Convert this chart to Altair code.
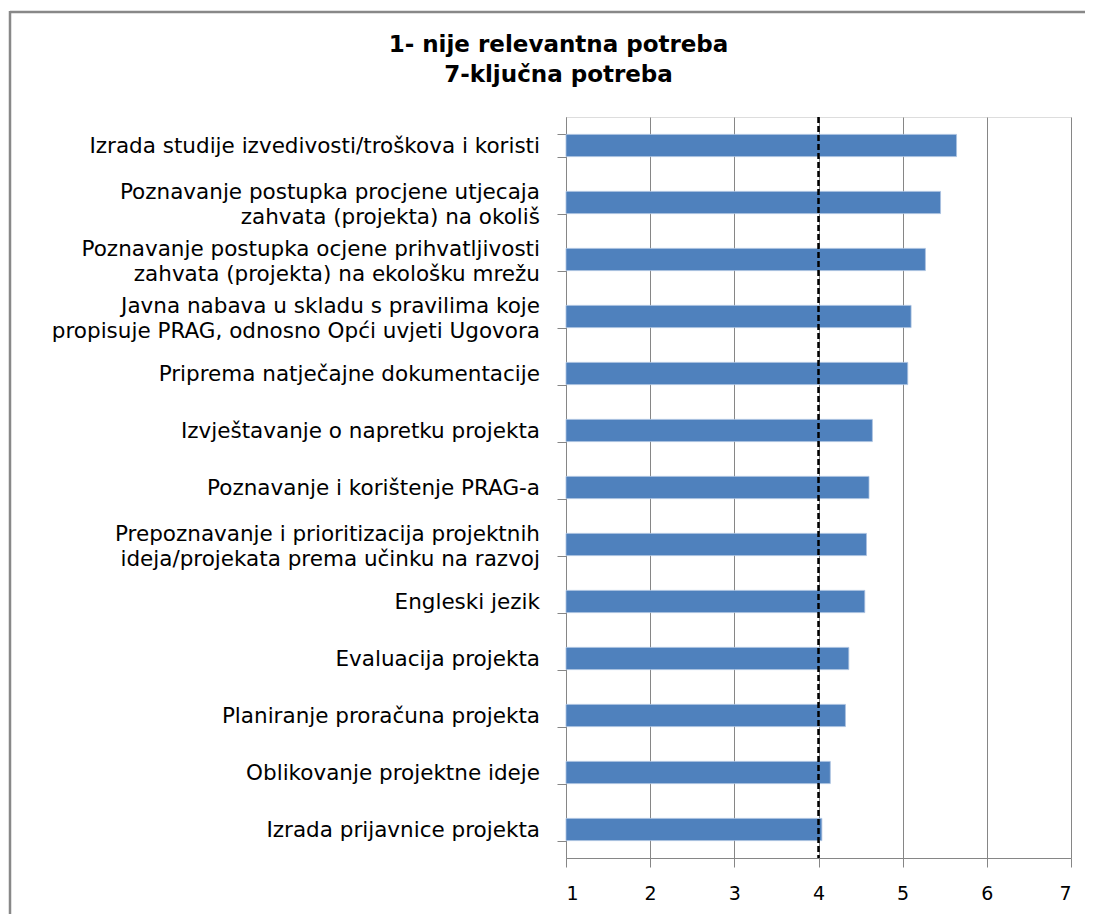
import altair as alt
import pandas as pd

categories = [
    "Izrada studije izvedivosti/troškova i koristi",
    "Poznavanje postupka procjene utjecaja|zahvata (projekta) na okoliš",
    "Poznavanje postupka ocjene prihvatljivosti|zahvata (projekta) na ekološku mrežu",
    "Javna nabava u skladu s pravilima koje|propisuje PRAG, odnosno Opći uvjeti Ugovora",
    "Priprema natječajne dokumentacije",
    "Izvještavanje o napretku projekta",
    "Poznavanje i korištenje PRAG-a",
    "Prepoznavanje i prioritizacija projektnih|ideja/projekata prema učinku na razvoj",
    "Engleski jezik",
    "Evaluacija projekta",
    "Planiranje proračuna projekta",
    "Oblikovanje projektne ideje",
    "Izrada prijavnice projekta",
]
values = [5.64, 5.45, 5.27, 5.10, 5.06, 4.64, 4.60, 4.57, 4.55, 4.36, 4.32, 4.14, 4.04]
reference_value = [4.0]
x_ticks = [1, 2, 3, 4, 5, 6, 7]
title_lines = ["1- nije relevantna potreba", "7-ključna potreba"]

FONT = "DejaVu Sans"
GRAY = "#868686"
LABEL_SIZE = 21.5

df = pd.DataFrame({"cat": categories, "value": values, "base": [1] * len(values)})
ref_df = pd.DataFrame({"ref": reference_value})

xscale = alt.Scale(domain=[1, 7], zero=False, nice=False)
yscale = alt.Scale(paddingInner=0.61, paddingOuter=0.305)
ysort = categories

base = alt.Chart(df)

bars = base.mark_bar(color="#4F81BD", stroke="#A9C0E0", strokeWidth=0.8).encode(
    x=alt.X("value:Q", scale=xscale,
            axis=alt.Axis(values=x_ticks, format="d", grid=True, gridColor=GRAY, gridWidth=1,
                          domainColor=GRAY, tickColor=GRAY, tickSize=9, labelPadding=17,
                          labelFontSize=19, labelColor="#000000", labelFont=FONT, title=None)),
    x2="base:Q",
    y=alt.Y("cat:N", sort=ysort, scale=yscale,
            axis=alt.Axis(title=None, domainColor=GRAY, tickColor=GRAY, tickSize=9,
                          tickBand="extent", labels=False)),
)

label_props = dict(align="right", baseline="middle", font=FONT, fontSize=LABEL_SIZE, color="#000000")

single = base.transform_filter("indexof(datum.cat, '|') < 0").mark_text(dy=1, **label_props).encode(
    y=alt.Y("cat:N", sort=ysort, scale=yscale),
    x=alt.value(-26),
    text="cat:N",
)
multi = base.transform_filter("indexof(datum.cat, '|') >= 0").transform_calculate(
    line1="split(datum.cat, '|')[0]", line2="split(datum.cat, '|')[1]"
)
multi1 = multi.mark_text(dy=-10, **label_props).encode(
    y=alt.Y("cat:N", sort=ysort, scale=yscale), x=alt.value(-26), text="line1:N"
)
multi2 = multi.mark_text(dy=15, **label_props).encode(
    y=alt.Y("cat:N", sort=ysort, scale=yscale), x=alt.value(-26), text="line2:N"
)

rule = alt.Chart(ref_df).mark_rule(color="#000000", strokeWidth=2.5, strokeDash=[6, 3]).encode(
    x=alt.X("ref:Q", scale=xscale)
)

frame_top = alt.Chart(ref_df).mark_rule(color="#888888", strokeWidth=2.5).encode(
    x=alt.value(-556), x2=alt.value(530), y=alt.value(-105)
)
frame_left = alt.Chart(ref_df).mark_rule(color="#888888", strokeWidth=2.5).encode(
    x=alt.value(-556), y=alt.value(-106), y2=alt.value(820)
)

chart = alt.layer(bars, rule, single, multi1, multi2, frame_top, frame_left).properties(
    width=505,
    height=741,
    autosize=alt.AutoSizeParams(type="none"),
    padding={"left": 558, "top": 109, "right": 14, "bottom": 56},
    title=alt.TitleParams(text=title_lines, fontSize=23, fontWeight="bold", font=FONT,
                          anchor="middle", dx=-260, offset=-77, lineHeight=30, color="#000000"),
).configure_view(stroke=None).configure(background="white")

chart.save("out.html", embed_options={"renderer": "svg", "actions": False})
